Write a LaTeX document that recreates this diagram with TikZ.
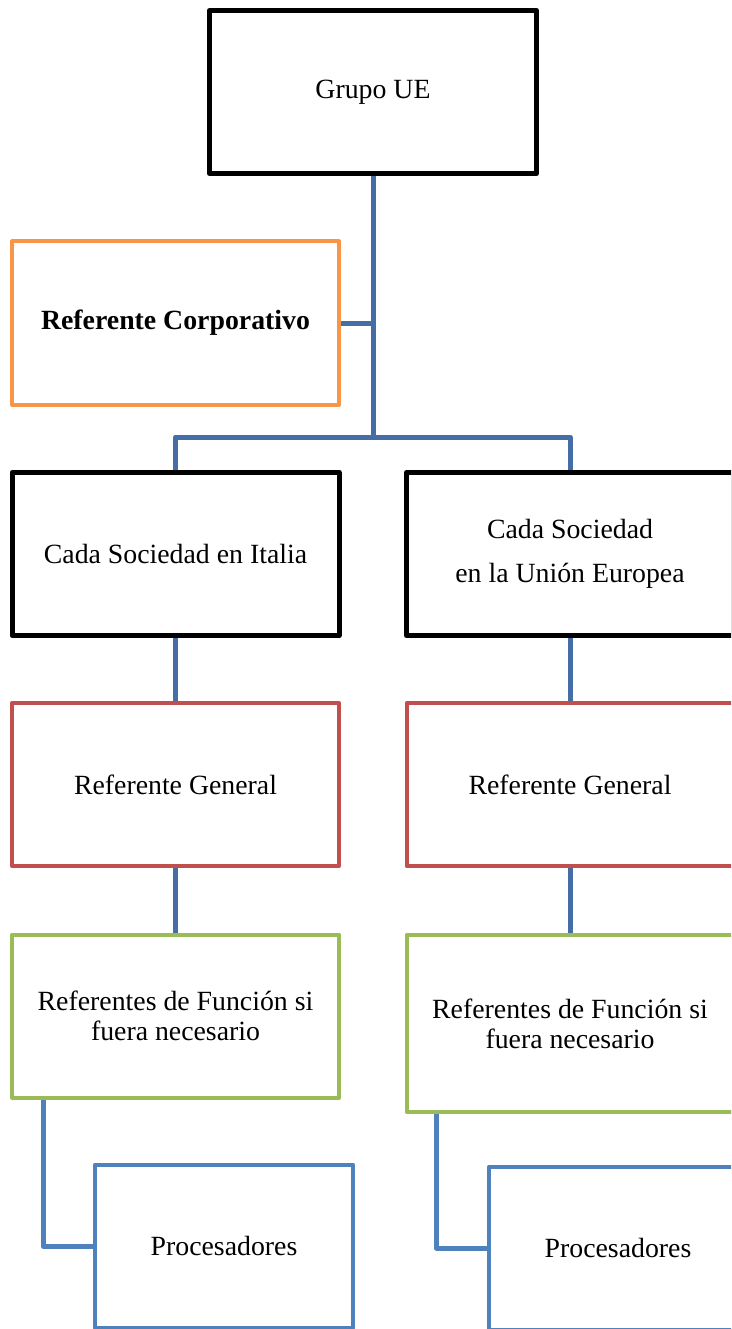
\documentclass[tikz,border=0pt]{standalone}
\usepackage{fontspec}
\setmainfont{Liberation Serif}
\definecolor{cblack}{RGB}{0,0,0}
\definecolor{corange}{RGB}{247,150,70}
\definecolor{cred}{RGB}{192,80,77}
\definecolor{cgreen}{RGB}{155,187,89}
\definecolor{cblue}{RGB}{79,129,189}
\definecolor{clink}{RGB}{68,110,165}
\begin{document}
\begin{tikzpicture}[x=1pt,y=-1pt,
  box/.style={draw,fill=white,rectangle,minimum width=327pt,minimum height=163pt,inner sep=0pt,align=center,font=\fontsize{27.8}{44}\selectfont,line join=round},
  blackbox/.style={box,draw=cblack,line width=5pt},
  orangebox/.style={box,draw=corange,line width=4pt},
  redbox/.style={box,draw=cred,line width=4pt},
  greenbox/.style={box,draw=cgreen,line width=4pt,font=\fontsize{27.8}{30}\selectfont},
  bluebox/.style={box,draw=cblue,line width=4pt,minimum width=258pt},
  link/.style={draw=clink,line width=5pt,line join=round},
  blink/.style={draw=cblue,line width=5pt,line join=round}]
\useasboundingbox (0,0) rectangle (731,1329);
\clip (0,0) rectangle (731,1329);
\coordinate (j) at (373,437);
\coordinate (jc) at (373,323);
\node[blackbox] (grupo) at (373,92) {Grupo UE};
\node[orangebox] (rc) at (175.5,323) {\textbf{Referente Corporativo}};
\node[blackbox] (it) at (175.5,554) {Cada Sociedad en Italia};
\node[blackbox] (ue) at (570,554) {Cada Sociedad\\en la Unión Europea};
\node[redbox] (rgl) at (175.5,784.5) {Referente General};
\node[redbox] (rgr) at (570,784.5) {Referente General};
\node[greenbox] (fl) at (175.5,1016) {Referentes de Función si\\fuera necesario};
\node[greenbox,minimum height=177pt] (fr) at (570,1023.5) {Referentes de Función si\\fuera necesario};
\node[bluebox] (pl) at (224,1246) {Procesadores};
\node[bluebox] (pr) at (618,1248) {Procesadores};
\path[link] (grupo.south) -- (j);
\path[link] (rc.east) -- (jc);
\path[link] (it.north) |- (j) -| (ue.north);
\path[link] (it.south) -- (rgl.north);
\path[link] (ue.south) -- (rgr.north);
\path[link] (rgl.south) -- (fl.north);
\path[link] (rgr.south) -- (fr.north);
\path[blink] ([xshift=33pt]fl.south west) |- (pl.west);
\path[blink] ([xshift=32pt]fr.south west) |- (pr.west);
\end{tikzpicture}
\end{document}
